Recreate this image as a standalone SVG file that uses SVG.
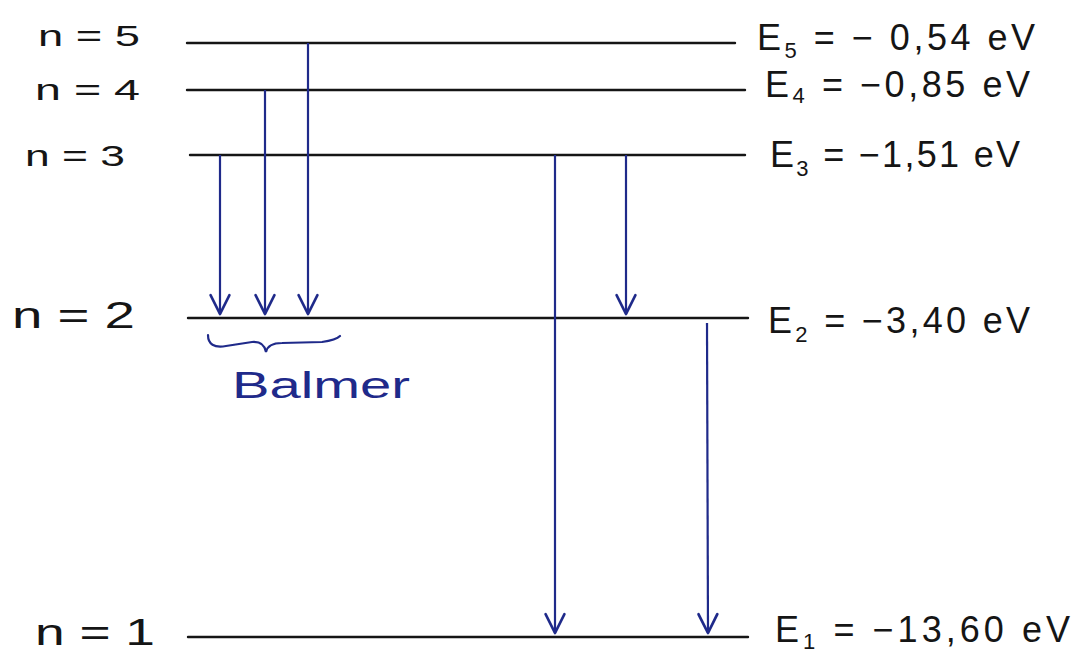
<svg xmlns="http://www.w3.org/2000/svg" width="1079" height="654" viewBox="0 0 1079 654">
<style>
.lvl{stroke:#151515;stroke-width:2.4;fill:none;stroke-linecap:round}
.arr{stroke:#1f2a8a;stroke-width:2.2;fill:none;marker-end:url(#v)}
.lab{font-family:"Liberation Sans",Arial,sans-serif;font-size:36px;fill:#151515}
.left{font-size:30px}
.sub{font-size:22px}
.blue{fill:#1f2a8a}
</style>
<defs>
<marker id="v" markerUnits="userSpaceOnUse" markerWidth="30" markerHeight="30" viewBox="-20 -12 24 24" refX="0" refY="0" orient="auto">
<path d="M-15,-7.5 L0,0 L-15,7.5" fill="none" stroke="#1f2a8a" stroke-width="2.2" stroke-linecap="round" stroke-linejoin="round"/>
</marker>
</defs>
<rect width="1079" height="654" fill="#ffffff"/>
<g id="level5">
<line class="lvl" x1="187" y1="43" x2="735" y2="43"/>
<text class="lab left" x="38" y="46" textLength="102" lengthAdjust="spacingAndGlyphs">n = 5</text>
<text class="lab" x="757" y="50" textLength="278" lengthAdjust="spacing">E<tspan class="sub" dy="8">5</tspan><tspan dy="-8"> = − 0,54 eV</tspan></text>
</g>
<g id="level4">
<line class="lvl" x1="187" y1="90" x2="745" y2="90"/>
<text class="lab left" x="35" y="100" textLength="105" lengthAdjust="spacingAndGlyphs">n = 4</text>
<text class="lab" x="765" y="97" textLength="265" lengthAdjust="spacing">E<tspan class="sub" dy="6">4</tspan><tspan dy="-6"> = −0,85 eV</tspan></text>
</g>
<g id="level3">
<line class="lvl" x1="190" y1="155" x2="745" y2="155"/>
<text class="lab left" x="25" y="166" textLength="100" lengthAdjust="spacingAndGlyphs">n = 3</text>
<text class="lab" x="770" y="167" textLength="250" lengthAdjust="spacing">E<tspan class="sub" dy="9">3</tspan><tspan dy="-9"> = −1,51 eV</tspan></text>
</g>
<g id="level2">
<line class="lvl" x1="188" y1="318" x2="748" y2="318"/>
<text class="lab" x="12" y="328" font-size="34" textLength="123" lengthAdjust="spacingAndGlyphs">n = 2</text>
<text class="lab" x="768" y="333" textLength="262" lengthAdjust="spacing">E<tspan class="sub" dy="9">2</tspan><tspan dy="-9"> = −3,40 eV</tspan></text>
</g>
<g id="level1">
<line class="lvl" x1="188" y1="637" x2="748" y2="637"/>
<text class="lab" x="35" y="645" font-size="32" textLength="120" lengthAdjust="spacingAndGlyphs">n = 1</text>
<text class="lab" x="775" y="642" textLength="295" lengthAdjust="spacing">E<tspan class="sub" dy="7">1</tspan><tspan dy="-7"> = −13,60 eV</tspan></text>
</g>
<g id="balmer">
<path d="M208,335 Q208,349 226,346 L252,342 Q264,341 266,352 Q268,343 282,343 L322,342 Q336,340 340,336" fill="none" stroke="#1f2a8a" stroke-width="2.2" stroke-linecap="round"/>
<text class="lab blue" x="232" y="398" font-size="40" textLength="178" lengthAdjust="spacingAndGlyphs">Balmer</text>
</g>
<g id="connectors">
<line class="arr" x1="220" y1="155" x2="220" y2="314"/>
<line class="arr" x1="265" y1="90" x2="265" y2="314"/>
<line class="arr" x1="308" y1="43" x2="308" y2="314"/>
<line class="arr" x1="626" y1="155" x2="626" y2="314"/>
<line class="arr" x1="555" y1="155" x2="555" y2="633"/>
<line class="arr" x1="707" y1="323" x2="708" y2="633"/>
</g>
</svg>
